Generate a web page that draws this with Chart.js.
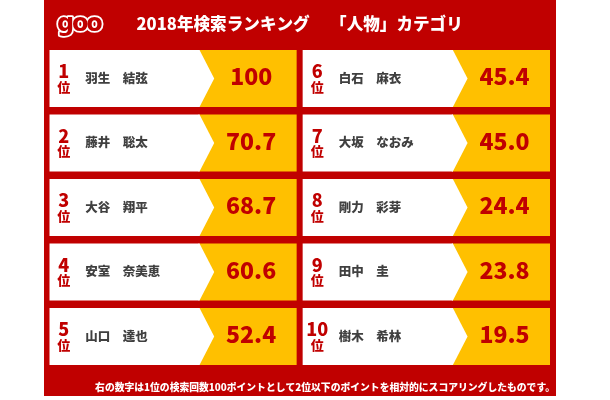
<!DOCTYPE html>
<html lang="ja">
<head>
<meta charset="utf-8">
<style>
  html, body { margin: 0; padding: 0; background: #fff; }
  #wrap { width: 610px; height: 400px; }
</style>
<script src="https://cdn.jsdelivr.net/npm/chart.js@4"></script>
</head>
<body>
<div id="wrap"><canvas id="rank"></canvas></div>
<script>
const titleText = '2018年検索ランキング　 「人物」カテゴリ';
const noteText = '右の数字は1位の検索回数100ポイントとして2位以下のポイントを相対的にスコアリングしたものです。';
const names = ['羽生　結弦', '藤井　聡太', '大谷　翔平', '安室　奈美恵', '山口　達也', '白石　麻衣', '大坂　なおみ', '剛力　彩芽', '田中　圭', '樹木　希林'];
const scoreLabels = ['100', '70.7', '68.7', '60.6', '52.4', '45.4', '45.0', '24.4', '23.8', '19.5'];
const ranks = [1, 2, 3, 4, 5, 6, 7, 8, 9, 10];
const rows = ['r1', 'r2', 'r3', 'r4', 'r5'];

const RED = '#c00000', YELLOW = '#ffc000', INK = '#404040';
const JP = '"Noto Sans CJK JP", "Noto Sans", sans-serif';

function span(from, to) { return rows.map(() => [from, to]); }

const cardPlugin = {
  id: 'cards',
  beforeDraw(chart) {
    const c = chart.ctx;
    c.save();
    c.fillStyle = RED;
    c.fillRect(44, 0, 512, 396);
    c.restore();
  },
  afterDatasetsDraw(chart) {
    const c = chart.ctx;
    c.save();
    // 白い矢印 + テキスト
    [[0, 1, 0], [2, 3, 5]].forEach(([whiteIdx, yellowIdx, offset]) => {
      const whites = chart.getDatasetMeta(whiteIdx).data;
      const yellows = chart.getDatasetMeta(yellowIdx).data;
      yellows.forEach((bar, r) => {
        const left = whites[r].base;
        const half = bar.height / 2;
        c.fillStyle = '#fff';
        c.beginPath();
        c.moveTo(bar.base - 1, bar.y - half);
        c.lineTo(bar.base, bar.y - half);
        c.lineTo(bar.base + 14.7, bar.y);
        c.lineTo(bar.base, bar.y + half);
        c.lineTo(bar.base - 1, bar.y + half);
        c.closePath();
        c.fill();

        const i = offset + r;
        c.textBaseline = 'middle';
        c.textAlign = 'center';
        c.fillStyle = RED;
        c.font = '900 18px ' + JP;
        c.fillText(String(ranks[i]), left + 14.5, bar.y - 7);
        c.font = '900 13px ' + JP;
        c.fillText('位', left + 14.5, bar.y + 8.5);

        c.textAlign = 'left';
        c.fillStyle = INK;
        c.font = '900 12.5px ' + JP;
        c.fillText(names[i], left + 36, bar.y - 0.5);

        c.textAlign = 'center';
        c.fillStyle = RED;
        c.font = '900 23px ' + JP;
        c.fillText(scoreLabels[i], bar.x - 45.5, bar.y - 2);
      });
    });

    c.textAlign = 'right';
    c.textBaseline = 'middle';
    c.fillStyle = '#fff';
    c.font = '900 9.8px ' + JP;
    c.fillText(noteText, 555, 387);

    // goo ロゴ
    c.textAlign = 'left';
    c.font = '700 24px "DejaVu Sans", sans-serif';
    c.letterSpacing = '-2.2px';
    c.lineJoin = 'round';
    c.lineWidth = 3.5;
    c.strokeStyle = '#fff';
    c.fillStyle = RED;
    c.strokeText('goo', 57, 25);
    c.fillText('goo', 57, 25);
    c.letterSpacing = '0px';
    c.restore();
  }
};

new Chart(document.getElementById('rank'), {
  type: 'bar',
  data: {
    labels: rows,
    datasets: [
      { data: span(0, 0.6), backgroundColor: '#fff' },
      { data: span(0.6, 0.988), backgroundColor: YELLOW },
      { data: span(1.012, 1.612), backgroundColor: '#fff' },
      { data: span(1.612, 2), backgroundColor: YELLOW }
    ]
  },
  options: {
    indexAxis: 'y',
    responsive: true,
    maintainAspectRatio: false,
    animation: false,
    layout: { padding: { left: 49.3, right: 60, top: 0, bottom: 31.25 } },
    datasets: { bar: { grouped: false, barPercentage: 1, categoryPercentage: 57 / 64.5 } },
    plugins: {
      legend: { display: false },
      tooltip: { enabled: false },
      title: {
        display: true,
        text: titleText,
        color: '#fff',
        font: { size: 16.6, weight: '900', family: JP, lineHeight: 1.2 },
        padding: { top: 14, bottom: 12.3 }
      }
    },
    scales: {
      x: { display: false, min: 0, max: 2 },
      y: { display: false }
    }
  },
  plugins: [cardPlugin]
});
</script>
</body>
</html>
